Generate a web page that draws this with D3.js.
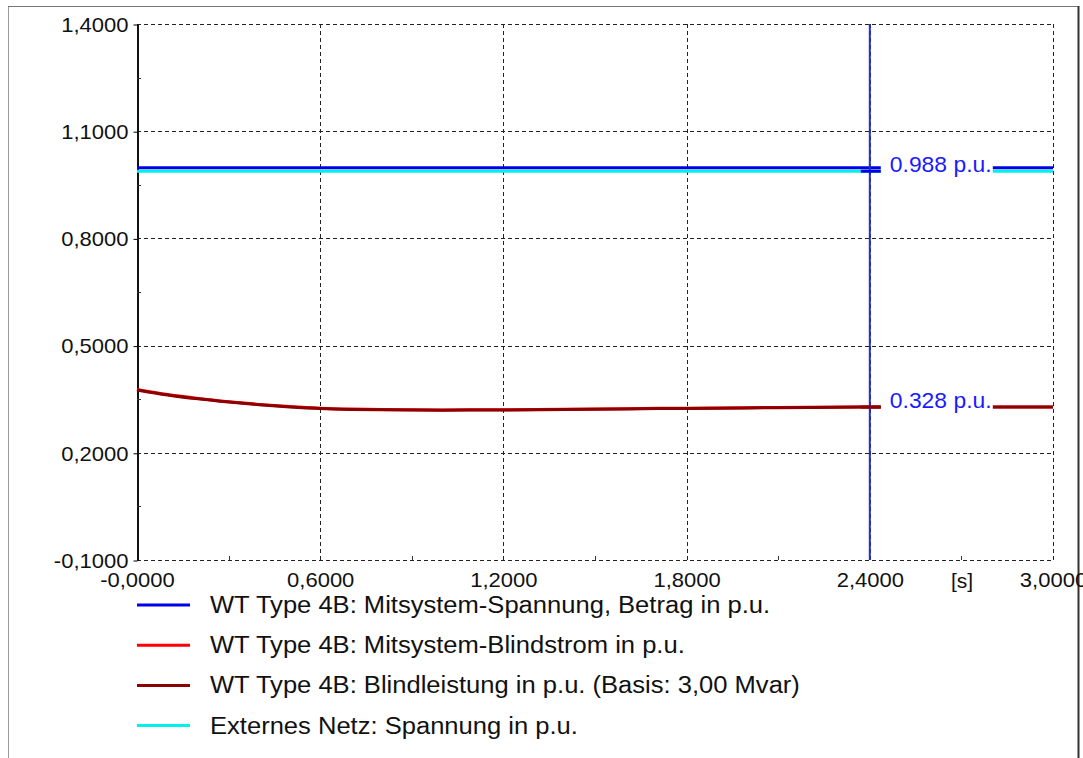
<!DOCTYPE html>
<html>
<head>
<meta charset="utf-8">
<script src="https://cdn.jsdelivr.net/npm/d3@7"></script>
<style>
  body { margin: 0; background: #fff; }
  text { font-family: "Liberation Sans", Arial, sans-serif; }
</style>
</head>
<body>
<script>
(function (d3) {
    "use strict";

    /***** Data *****/
    var time = [0, 0.1, 0.2, 0.3, 0.4, 0.5, 0.6, 0.7, 0.8, 0.9, 1.0, 1.2, 1.4, 1.6, 1.8, 2.0, 2.2, 2.4, 2.6, 2.8, 3.0];
    var mitsystemSpannung = [0.998, 0.998, 0.998, 0.998, 0.998, 0.998, 0.998, 0.998, 0.998, 0.998, 0.998, 0.998, 0.998, 0.998, 0.998, 0.998, 0.998, 0.998, 0.998, 0.998, 0.998];
    var blindstrom = [0.377, 0.363, 0.352, 0.343, 0.3355, 0.3295, 0.325, 0.3225, 0.321, 0.3203, 0.3201, 0.3205, 0.322, 0.3235, 0.325, 0.3262, 0.3274, 0.3285, 0.3285, 0.3285, 0.3285];
    var blindleistung = [0.376, 0.362, 0.351, 0.342, 0.3345, 0.3285, 0.324, 0.3215, 0.3202, 0.3196, 0.3194, 0.3198, 0.3212, 0.3228, 0.3243, 0.3256, 0.3268, 0.328, 0.328, 0.328, 0.328];
    var externesNetz = [0.988, 0.988, 0.988, 0.988, 0.988, 0.988, 0.988, 0.988, 0.988, 0.988, 0.988, 0.988, 0.988, 0.988, 0.988, 0.988, 0.988, 0.988, 0.988, 0.988, 0.988];

    var seriesNames = [
        "WT Type 4B: Mitsystem-Spannung, Betrag in p.u.",
        "WT Type 4B: Mitsystem-Blindstrom in p.u.",
        "WT Type 4B: Blindleistung in p.u. (Basis: 3,00 Mvar)",
        "Externes Netz: Spannung in p.u."
    ];
    var seriesColors = ["#0000e6", "#ff0000", "#8b0000", "#00f0f0"];
    var seriesValues = [mitsystemSpannung, blindstrom, blindleistung, externesNetz];
    var drawOrder = [3, 0, 1, 2];

    var xTicks = [0, 0.6, 1.2, 1.8, 2.4, 3.0];
    var xTickLabels = ["-0,0000", "0,6000", "1,2000", "1,8000", "2,4000", "3,0000"];
    var yTicks = [-0.1, 0.2, 0.5, 0.8, 1.1, 1.4];
    var yTickLabels = ["-0,1000", "0,2000", "0,5000", "0,8000", "1,1000", "1,4000"];

    var cursorTime = 2.4;
    var cursorLabels = [
        { value: 0.988, text: "0.988 p.u.", series: 0 },
        { value: 0.328, text: "0.328 p.u.", series: 2 }
    ];

    /***** Configuration *****/
    var width = 1083, height = 758;
    var plot = { left: 137, top: 24, right: 1053, bottom: 560 };

    var xScale = d3.scaleLinear().domain([0, 3]).range([plot.left, plot.right]);
    var yScale = d3.scaleLinear().domain([-0.1, 1.4]).range([plot.bottom, plot.top]);

    // stretch text horizontally, the source font is wider than Arial
    function stretch(sel, k) {
        sel.each(function () {
            var w = this.getComputedTextLength();
            d3.select(this).attr("textLength", w * k).attr("lengthAdjust", "spacingAndGlyphs");
        });
    }

    var svg = d3.select("body").append("svg")
        .attr("width", width)
        .attr("height", height);

    // outer frame
    svg.append("line").attr("x1", 8.5).attr("x2", 8.5).attr("y1", 6).attr("y2", height)
        .attr("stroke", "#999").attr("stroke-width", 1);
    svg.append("line").attr("x1", 8).attr("x2", 1079).attr("y1", 6.5).attr("y2", 6.5)
        .attr("stroke", "#777").attr("stroke-width", 1);
    svg.append("line").attr("x1", 1078.5).attr("x2", 1078.5).attr("y1", 6).attr("y2", height)
        .attr("stroke", "#333").attr("stroke-width", 2);

    /***** Grid *****/
    var grid = svg.append("g");
    grid.selectAll(".gx").data(xTicks.slice(1)).enter().append("line")
        .attr("x1", function (d) { return Math.round(xScale(d)) + 0.5; })
        .attr("x2", function (d) { return Math.round(xScale(d)) + 0.5; })
        .attr("y1", plot.top).attr("y2", plot.bottom)
        .attr("stroke", "#222").attr("stroke-dasharray", "4,3");
    grid.selectAll(".gy").data(yTicks).enter().append("line")
        .attr("x1", plot.left).attr("x2", plot.right)
        .attr("y1", function (d) { return Math.round(yScale(d)) + 0.5; })
        .attr("y2", function (d) { return Math.round(yScale(d)) + 0.5; })
        .attr("stroke", "#222").attr("stroke-dasharray", "4,3");

    /***** Axes *****/
    var yAxis = d3.axisLeft(yScale).tickValues(yTicks)
        .tickFormat(function (d, i) { return yTickLabels[i]; })
        .tickSizeInner(4).tickSizeOuter(0).tickPadding(5);
    var yAxisG = svg.append("g").attr("transform", "translate(" + (plot.left + 0.5) + ",0.5)").call(yAxis);
    yAxisG.select(".domain").attr("stroke", "#111").attr("stroke-width", 2);
    yAxisG.selectAll("text").attr("font-size", 21).attr("fill", "#111")
        .attr("font-family", "Liberation Sans, Arial, sans-serif")
        .call(stretch, 1.048);

    var yMinor = d3.range(0, yTicks.length - 1).map(function (i) { return (yTicks[i] + yTicks[i + 1]) / 2; });
    svg.append("g").selectAll("line").data(yMinor).enter().append("line")
        .attr("x1", plot.left).attr("x2", plot.left + 4)
        .attr("y1", function (d) { return Math.round(yScale(d)) + 0.5; })
        .attr("y2", function (d) { return Math.round(yScale(d)) + 0.5; })
        .attr("stroke", "#333");

    var xAxis = d3.axisBottom(xScale).tickValues(xTicks)
        .tickFormat(function (d, i) { return xTickLabels[i]; })
        .tickSize(0).tickPadding(12);
    var xAxisG = svg.append("g").attr("transform", "translate(0," + plot.bottom + ")").call(xAxis);
    xAxisG.select(".domain").remove();
    xAxisG.selectAll("text").attr("font-size", 21).attr("fill", "#111")
        .attr("font-family", "Liberation Sans, Arial, sans-serif")
        .call(stretch, 1.048);

    var xMinor = d3.range(0, xTicks.length - 1).map(function (i) { return (xTicks[i] + xTicks[i + 1]) / 2; });
    svg.append("g").selectAll("line").data(xMinor).enter().append("line")
        .attr("x1", function (d) { return Math.round(xScale(d)) + 0.5; })
        .attr("x2", function (d) { return Math.round(xScale(d)) + 0.5; })
        .attr("y1", plot.bottom).attr("y2", plot.bottom - 4)
        .attr("stroke", "#333");

    svg.append("text").attr("x", 962).attr("y", plot.bottom + 28)
        .attr("text-anchor", "middle").attr("font-size", 21).attr("fill", "#111")
        .text("[s]");

    /***** Curves *****/
    var line = d3.line()
        .x(function (d, i) { return xScale(time[i]); })
        .y(function (d) { return yScale(d); })
        .curve(d3.curveMonotoneX);

    svg.append("g").selectAll("path").data(drawOrder).enter().append("path")
        .attr("d", function (k) { return line(seriesValues[k]); })
        .attr("fill", "none")
        .attr("stroke", function (k) { return seriesColors[k]; })
        .attr("stroke-width", 3);

    /***** Cursor *****/
    var cx = xScale(cursorTime);
    svg.append("line").attr("x1", cx).attr("x2", cx)
        .attr("y1", plot.top).attr("y2", plot.bottom)
        .attr("stroke", "#2233cc").attr("stroke-width", 2);

    var labels = svg.append("g").selectAll("g").data(cursorLabels).enter().append("g");
    labels.append("rect")
        .attr("x", cx + 11).attr("width", 112)
        .attr("y", function (d) { return yScale(d.value) - 16; })
        .attr("height", 24).attr("fill", "#fff");
    labels.append("line")
        .attr("x1", cx - 9).attr("x2", cx + 11)
        .attr("y1", function (d) { return yScale(d.value); })
        .attr("y2", function (d) { return yScale(d.value); })
        .attr("stroke", function (d) { return seriesColors[d.series]; })
        .attr("stroke-width", 3);
    labels.append("text")
        .attr("x", cx + 20)
        .attr("y", function (d) { return yScale(d.value) + 0.5; })
        .attr("font-size", 22).attr("fill", "#1a1aff")
        .text(function (d) { return d.text; })
        .call(stretch, 1.04);

    /***** Legend *****/
    var legend = svg.append("g").selectAll("g").data(seriesNames).enter().append("g")
        .attr("transform", function (d, i) { return "translate(137," + (605 + i * 40.2) + ")"; });
    legend.append("line").attr("x1", 0).attr("x2", 53)
        .attr("stroke", function (d, i) { return seriesColors[i]; })
        .attr("stroke-width", 3);
    legend.append("text").attr("x", 73).attr("dy", "0.35em")
        .attr("font-size", 23).attr("fill", "#111")
        .text(function (d) { return d; })
        .call(stretch, 1.111);

})(d3);
</script>
</body>
</html>
